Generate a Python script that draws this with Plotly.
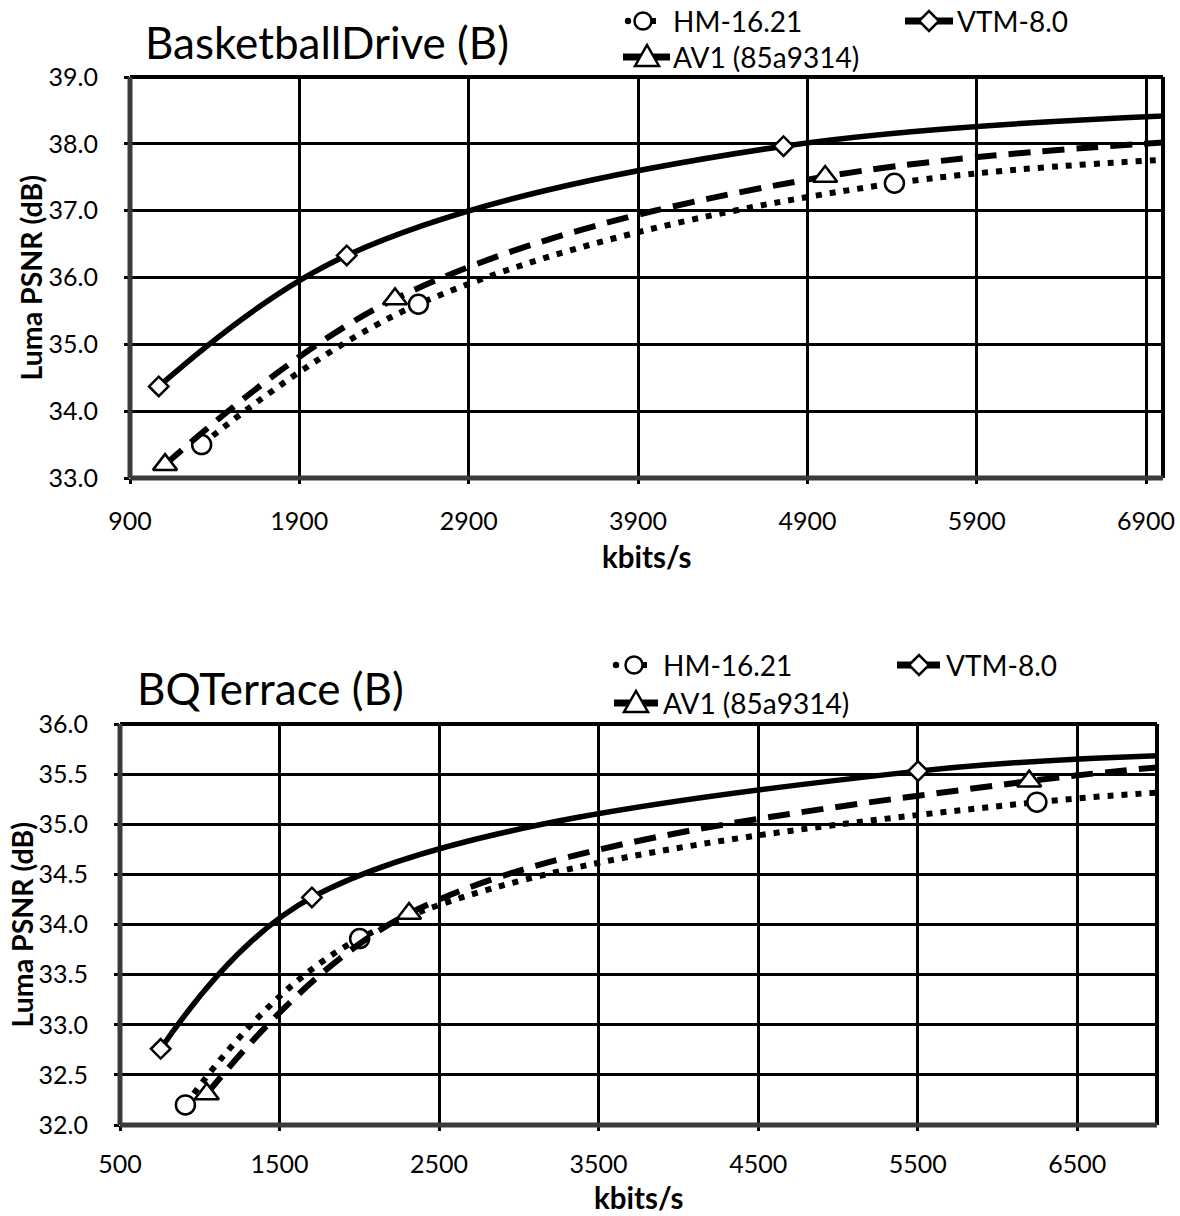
import plotly.graph_objects as go

W, H = 1180, 1216

# ---------------- data ----------------
# BasketballDrive (B)
bd_hm_rate = [1323, 2603, 5414, 11000]
bd_hm_psnr = [33.50, 35.60, 37.41, 37.95]
bd_vtm_rate = [1070, 2180, 4759, 10000]
bd_vtm_psnr = [34.37, 36.33, 37.965, 38.60]
bd_av1_rate = [1107, 2465, 5005, 10500]
bd_av1_psnr = [33.20, 35.68, 37.51, 38.35]

# BQTerrace (B)
bq_hm_rate = [910, 2002, 6247, 14000]
bq_hm_psnr = [32.20, 33.86, 35.22, 35.30]
bq_vtm_rate = [755, 1703, 5502, 12000]
bq_vtm_psnr = [32.76, 34.27, 35.53, 35.65]
bq_av1_rate = [1044, 2312, 6199, 12000]
bq_av1_psnr = [32.31, 34.11, 35.43, 35.90]

series_names = ["HM-16.21", "VTM-8.0", "AV1 (85a9314)"]
titles = ["BasketballDrive (B)", "BQTerrace (B)"]
x_title = "kbits/s"
y_title = "Luma PSNR (dB)"

FONT = "Lato"


def px(x):
    return x / W


def py(y):
    return 1 - y / H


styles = {
    "HM-16.21": dict(dash="6px,8px", width=6, symbol="circle", size=19),
    "VTM-8.0": dict(dash="solid", width=5.5, symbol="diamond", size=15),
    "AV1 (85a9314)": dict(dash="22px,12px", width=6, symbol="triangle-up", size=21),
}

fig = go.Figure()

charts = [
    ("x", "y", [(bd_hm_rate, bd_hm_psnr), (bd_vtm_rate, bd_vtm_psnr), (bd_av1_rate, bd_av1_psnr)]),
    ("x2", "y2", [(bq_hm_rate, bq_hm_psnr), (bq_vtm_rate, bq_vtm_psnr), (bq_av1_rate, bq_av1_psnr)]),
]

for xa, ya, data in charts:
    for name, (xs, ys) in zip(series_names, data):
        st = styles[name]
        fig.add_trace(go.Scatter(
            x=xs, y=ys, xaxis=xa, yaxis=ya, name=name, showlegend=False,
            mode="lines+markers",
            line=dict(color="black", width=st["width"], dash=st["dash"], shape="spline", smoothing=1),
            marker=dict(symbol=st["symbol"], size=st["size"], color="white",
                        line=dict(color="black", width=2.5)),
        ))

# plot-area pixel boxes (left, right, top, bottom)
boxes = [(130, 1163, 77, 478), (120, 1157, 724, 1125)]

axis_common = dict(
    showgrid=True, gridcolor="black", gridwidth=2.5, zeroline=False, automargin=False,
    showline=False, ticks="outside", ticklen=5, tickwidth=2.5, tickcolor="black",
    tickfont=dict(family=FONT, size=25, color="black"),
)

(l1, r1, t1, b1), (l2, r2, t2, b2) = boxes
fig.update_layout(
    xaxis=dict(domain=[px(l1), px(r1)], range=[900, 7000], tick0=900, dtick=1000,
               anchor="y", ticklabelstandoff=16, **axis_common),
    yaxis=dict(domain=[py(b1), py(t1)], range=[33, 39], dtick=1, tickformat=".1f",
               anchor="x", ticklabelstandoff=21, **axis_common),
    xaxis2=dict(domain=[px(l2), px(r2)], range=[500, 7000], tick0=500, dtick=1000,
                anchor="y2", ticklabelstandoff=12, **axis_common),
    yaxis2=dict(domain=[py(b2), py(t2)], range=[32, 36], dtick=0.5, tickformat=".1f",
                anchor="x2", ticklabelstandoff=21, **axis_common),
)

shapes = []
annotations = []

# plot borders: top/right black, left/bottom dark gray (Excel style)
for xa, ya in [("x", "y"), ("x2", "y2")]:
    xd, yd = xa + " domain", ya + " domain"
    shapes.append(dict(type="line", xref=xd, yref=yd, x0=0, x1=1, y0=1, y1=1,
                       line=dict(color="black", width=4), layer="above"))
    shapes.append(dict(type="line", xref=xd, yref=yd, x0=1, x1=1, y0=0, y1=1,
                       line=dict(color="black", width=4), layer="above"))
    shapes.append(dict(type="line", xref=xd, yref=yd, x0=0, x1=0, y0=0, y1=1,
                       line=dict(color="#3a3a3a", width=5), layer="above"))
    shapes.append(dict(type="line", xref=xd, yref=yd, x0=0, x1=1, y0=0, y1=0,
                       line=dict(color="#3a3a3a", width=5), layer="above"))

# titles
for (title, tx, ty) in [(titles[0], 143, 42), (titles[1], 135, 688)]:
    annotations.append(dict(text=title, xref="paper", yref="paper", x=px(tx), y=py(ty),
                            xanchor="left", yanchor="middle", showarrow=False,
                            font=dict(family=FONT, size=44, color="black")))

# axis titles
for (cx, cy) in [((l1 + r1) / 2, 557), ((l2 + r2) / 2, 1197)]:
    annotations.append(dict(text="<b>" + x_title + "</b>", xref="paper", yref="paper",
                            x=px(cx), y=py(cy), xanchor="center", yanchor="middle",
                            showarrow=False, font=dict(family=FONT, size=29.5, color="black")))
for (tx, cy) in [(30, (t1 + b1) / 2), (21, (t2 + b2) / 2)]:
    annotations.append(dict(text="<b>" + y_title + "</b>", xref="paper", yref="paper",
                            x=px(tx), y=py(cy), xanchor="center", yanchor="middle",
                            textangle=-90, showarrow=False,
                            font=dict(family=FONT, size=28.5, color="black")))


# manual legends
def circle(cx, cy, r, fill="white", lw=2.5):
    return dict(type="circle", xref="paper", yref="paper",
                x0=px(cx - r), x1=px(cx + r), y0=py(cy + r), y1=py(cy - r),
                fillcolor=fill, line=dict(color="black", width=lw), layer="above")


def hline(x0, x1, y, w=6):
    return dict(type="line", xref="paper", yref="paper", x0=px(x0), x1=px(x1),
                y0=py(y), y1=py(y), line=dict(color="black", width=w), layer="above")


def path(pts):
    d = "M " + " L ".join(f"{px(a):.5f},{py(b):.5f}" for a, b in pts) + " Z"
    return dict(type="path", xref="paper", yref="paper", path=d, fillcolor="white",
                line=dict(color="black", width=2.5), layer="above")


def legend_text(text, x, y):
    return dict(text=text, xref="paper", yref="paper", x=px(x), y=py(y),
                xanchor="left", yanchor="middle", showarrow=False,
                font=dict(family=FONT, size=28, color="black"))


legend_pos = [
    dict(hd=628, hc=643, ht=671, vl=(905, 953), vd=929, vt=955, al=(623, 670), at=647, atx=671, r1=21, r2=57),
    dict(hd=616, hc=634, ht=661, vl=(897, 940), vd=919, vt=944, al=(614, 658), at=636, atx=661, r1=665, r2=703),
]
for lp in legend_pos:
    r1y, r2y = lp["r1"], lp["r2"]
    # HM
    shapes.append(circle(lp["hd"], r1y, 3.2, fill="black", lw=0))
    shapes.append(hline(lp["hc"] + 8, lp["hc"] + 13, r1y, w=6))
    shapes.append(circle(lp["hc"], r1y, 8.5))
    annotations.append(legend_text(series_names[0], lp["ht"], r1y))
    # VTM
    shapes.append(hline(lp["vl"][0], lp["vl"][1], r1y, w=7))
    d = lp["vd"]
    shapes.append(path([(d - 10, r1y), (d, r1y - 10), (d + 10, r1y), (d, r1y + 10)]))
    annotations.append(legend_text(series_names[1], lp["vt"], r1y))
    # AV1
    shapes.append(hline(lp["al"][0], lp["at"] - 6, r2y, w=7))
    shapes.append(hline(lp["at"] + 6, lp["al"][1], r2y, w=7))
    a = lp["at"]
    shapes.append(path([(a - 12, r2y + 9), (a + 12, r2y + 9), (a, r2y - 12)]))
    annotations.append(legend_text(series_names[2], lp["atx"], r2y))

fig.update_layout(
    width=W, height=H, margin=dict(l=0, r=0, t=0, b=0),
    paper_bgcolor="white", plot_bgcolor="white",
    showlegend=False, shapes=shapes, annotations=annotations,
    font=dict(family=FONT, color="black"),
)

fig.write_html("out.html")
